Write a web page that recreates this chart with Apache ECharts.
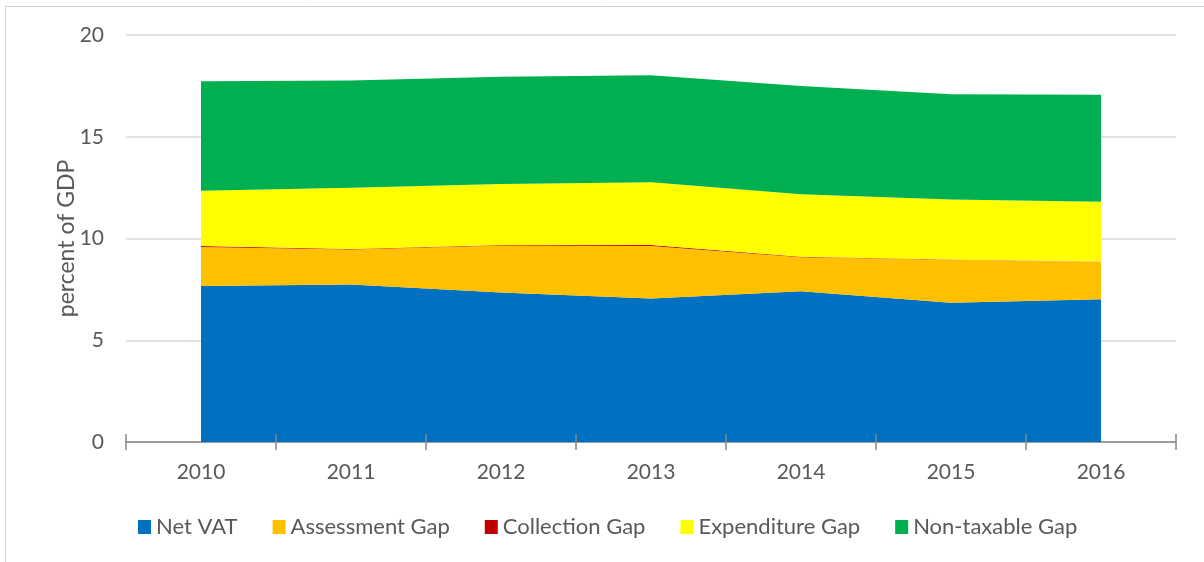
<!DOCTYPE html>
<html>
<head>
<meta charset="utf-8">
<title>VAT gaps</title>
<script src="https://cdn.jsdelivr.net/npm/echarts@6/dist/echarts.min.js"></script>
<style>
  html, body { margin: 0; padding: 0; background: #fff; }
  #chart { width: 1204px; height: 562px; }
</style>
</head>
<body>
<div id="chart"></div>
<script>
// years on the x axis
var years = ['2010', '2011', '2012', '2013', '2014', '2015', '2016'];
// percent of GDP, stacked from the bottom up
var netVat         = [7.66, 7.74, 7.35, 7.05, 7.41, 6.84, 7.02];
var assessmentGap  = [1.92, 1.72, 2.30, 2.58, 1.67, 2.11, 1.85];
var collectionGap  = [0.05, 0.02, 0.03, 0.05, 0.02, 0.02, 0.02];
var expenditureGap = [2.72, 3.01, 3.00, 3.09, 3.08, 2.95, 2.92];
var nonTaxableGap  = [5.38, 5.27, 5.27, 5.25, 5.32, 5.17, 5.26];
var yTicks = [0, 5, 10, 15, 20];

var font = 'Lato';
var grey = '#595959';

function area(name, data, color) {
  return {
    name: name,
    type: 'line',
    stack: 'total',
    data: data,
    showSymbol: false,
    symbol: 'none',
    lineStyle: { width: 0 },
    areaStyle: { color: color, opacity: 1 },
    itemStyle: { color: color },
    emphasis: { disabled: true }
  };
}

var chart = echarts.init(document.getElementById('chart'));
chart.setOption({
  animation: false,
  textStyle: { fontFamily: font },
  graphic: [{
    type: 'rect',
    shape: { x: 5.5, y: 6.5, width: 1400, height: 800 },
    style: { fill: null, stroke: '#d0d0d0', lineWidth: 1 },
    silent: true
  }],
  grid: { left: 126, right: 28, top: 35, bottom: 120 },
  legend: {
    left: 138,
    top: 516,
    padding: 0,
    itemWidth: 13,
    itemHeight: 14,
    itemGap: 35,
    icon: 'rect',
    textStyle: { fontFamily: font, fontSize: 22, color: grey },
    data: ['Net VAT', 'Assessment Gap', 'Collection Gap', 'Expenditure Gap', 'Non-taxable Gap']
  },
  xAxis: [{
    type: 'category',
    data: years,
    boundaryGap: true,
    axisLine: { lineStyle: { color: '#868686', width: 1.5 } },
    axisTick: { show: true, interval: 0, length: 8, lineStyle: { color: '#868686', width: 1.5 } },
    axisLabel: { fontFamily: font, fontSize: 21, color: grey, margin: 20, interval: 0 },
    splitLine: { show: false }
  }, {
    type: 'category',
    data: years,
    position: 'bottom',
    boundaryGap: true,
    z: 10,
    axisLine: { show: false },
    axisTick: { show: true, inside: true, interval: 0, length: 8, lineStyle: { color: '#868686', width: 1.5 } },
    axisLabel: { show: false },
    splitLine: { show: false }
  }],
  yAxis: {
    type: 'value',
    min: yTicks[0],
    max: yTicks[yTicks.length - 1],
    interval: 5,
    name: 'percent of GDP',
    nameLocation: 'middle',
    nameGap: 48,
    nameMoveOverlap: false,
    nameTextStyle: { fontFamily: font, fontSize: 23, color: grey },
    axisLine: { show: false },
    axisTick: { show: false },
    axisLabel: { fontFamily: font, fontSize: 21, color: grey, margin: 22 },
    splitLine: { lineStyle: { color: '#d9d9d9', width: 1.5 } }
  },
  series: [
    area('Net VAT', netVat, '#0070C0'),
    area('Assessment Gap', assessmentGap, '#FFC000'),
    area('Collection Gap', collectionGap, '#C00000'),
    area('Expenditure Gap', expenditureGap, '#FFFF00'),
    area('Non-taxable Gap', nonTaxableGap, '#00B050')
  ]
});
</script>
</body>
</html>
